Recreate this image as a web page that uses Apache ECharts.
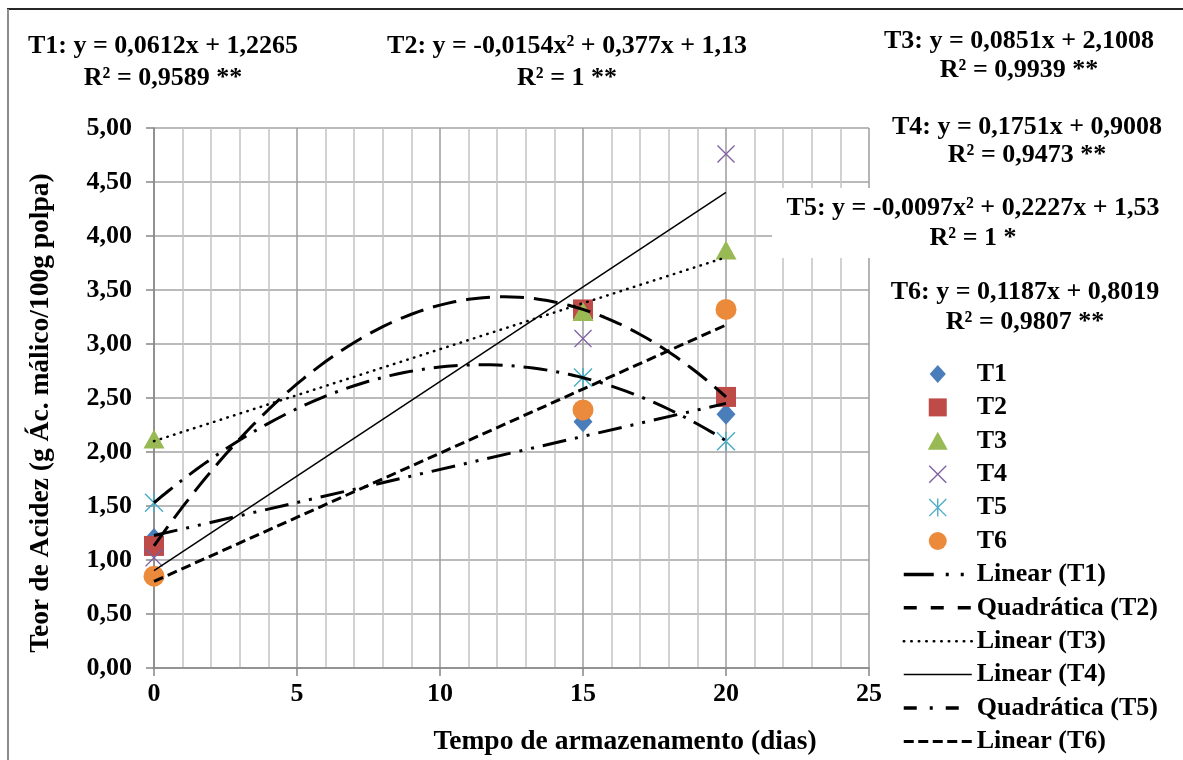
<!DOCTYPE html>
<html><head><meta charset="utf-8">
<script src="https://cdn.jsdelivr.net/npm/echarts@6/dist/echarts.min.js"></script>
<style>html,body{margin:0;padding:0;background:#fff}#c{width:1183px;height:760px}</style>
</head><body><div id="c"></div>
<script>
// ---- data ----
const days = [0, 15, 20];
const scatterNames = ['T1', 'T2', 'T3', 'T4', 'T5', 'T6'];
const T1 = [1.20, 2.28, 2.35];
const T2 = [1.13, 3.32, 2.51];
const T3 = [2.12, 3.30, 3.87];
const T4 = [1.02, 3.05, 4.76];
const T5 = [1.53, 2.69, 2.10];
const T6 = [0.85, 2.39, 3.32];
// trendline coefficients as printed on the chart: [x², x, const]
const fitT1 = [0, 0.0612, 1.2265];
const fitT2 = [-0.0154, 0.377, 1.13];
const fitT3 = [0, 0.0851, 2.1008];
const fitT4 = [0, 0.1751, 0.9008];
const fitT5 = [-0.0097, 0.2227, 1.53];
const fitT6 = [0, 0.1187, 0.8019];
const trendNames = ['Linear (T1)', 'Quadrática (T2)', 'Linear (T3)', 'Linear (T4)', 'Quadrática (T5)', 'Linear (T6)'];
const eqLine1 = ['T1: y = 0,0612x + 1,2265', 'T2: y = -0,0154x² + 0,377x + 1,13', 'T3: y = 0,0851x + 2,1008',
                 'T4: y = 0,1751x + 0,9008', 'T5: y = -0,0097x² + 0,2227x + 1,53', 'T6: y = 0,1187x + 0,8019'];
const eqLine2 = ['R² = 0,9589 **', 'R² = 1 **', 'R² = 0,9939 **', 'R² = 0,9473 **', 'R² = 1 *', 'R² = 0,9807 **'];
const xTicks = [0, 5, 10, 15, 20, 25];
const yTicks = [0, 0.5, 1, 1.5, 2, 2.5, 3, 3.5, 4, 4.5, 5];
const xTitle = 'Tempo de armazenamento (dias)';
const yTitle = 'Teor de Acidez (g Ác. málico/100g polpa)';

// ---- styling ----
const FONT = '"Liberation Serif", "Times New Roman", serif';
const colors = ['#4A7EBB', '#BE4B48', '#98B954', '#7D60A0', '#4BACC6', '#EC8A3C'];
const DIAMOND_PATH = 'path://M45,0L90,50L45,100L0,50Z';
const RECT_PATH = 'path://M0,0L100,0L100,100L0,100Z';
const TRI_PATH = 'path://M50,0L100,90L0,90Z';
const CIRCLE_PATH = 'path://M50,0A50,50,0,1,1,49.99,0Z';
const X_PATH = 'path://M2.83,-2.83L102.83,97.17L97.17,102.83L-2.83,2.83ZM102.83,2.83L2.83,102.83L-2.83,97.17L97.17,-2.83Z';
const STAR_PATH = X_PATH + 'M46,-2.83L54,-2.83L54,102.83L46,102.83Z';
const symbols = ['diamond', 'rect', 'triangle', X_PATH, STAR_PATH, 'circle'];
const legendIcons = [DIAMOND_PATH, RECT_PATH, TRI_PATH, X_PATH, STAR_PATH, CIRCLE_PATH];
const symSizes = [[19, 21], 20, [21, 19], 18, 19, 21];
const trendStyles = [
  { width: 3, type: [24, 9, 3, 9, 3, 9] },
  { width: 3, type: [24, 10] },
  { width: 2.5, type: [0.5, 6.5], cap: 'round' },
  { width: 1.5, type: 'solid' },
  { width: 3, type: [24, 9, 3, 9] },
  { width: 3, type: [10, 5] }
];
const legendLineStyles = [
  { width: 3.5, type: [30, 12, 3, 12, 3, 20] },
  { width: 3.5, type: [13, 14] },
  { width: 2.5, type: [0.5, 7], cap: 'round' },
  { width: 1.5, type: 'solid' },
  { width: 3.5, type: [13, 13, 3, 13] },
  { width: 3, type: [10, 4.5] }
];

const scatterData = [T1, T2, T3, T4, T5, T6];
const fits = [fitT1, fitT2, fitT3, fitT4, fitT5, fitT6];
const xStart = days[0], xEnd = days[days.length - 1];

function trendPoints(c) {
  const pts = [];
  const quad = c[0] !== 0;
  const step = quad ? 0.25 : (xEnd - xStart);
  for (let x = xStart; x <= xEnd + 1e-9; x += step) pts.push([x, c[0] * x * x + c[1] * x + c[2]]);
  return pts;
}

const series = [];
scatterNames.forEach((n, i) => {
  series.push({
    name: n, type: 'scatter', z: 2,
    symbol: symbols[i], symbolSize: symSizes[i],
    itemStyle: { color: colors[i], opacity: 1 },
    data: days.map((d, k) => [d, scatterData[i][k]])
  });
});
trendNames.forEach((n, i) => {
  series.push({
    name: n, type: 'line', z: 3, showSymbol: false, symbol: 'none', smooth: false,
    lineStyle: Object.assign({ color: '#000' }, trendStyles[i]),
    itemStyle: { color: 'rgba(0,0,0,0)', borderWidth: 0 },
    data: trendPoints(fits[i])
  });
});

const fmt = v => v.toFixed(2).replace('.', ',');
const bold = sz => 'bold ' + sz + 'px ' + FONT;

const eqPos = [
  [163, 46, 78], [567, 46, 78], [1019, 41, 70],
  [1027, 127, 155], [973, 208, 238], [1025, 292, 322]
];
const graphics = [
  { type: 'line', z: 50, shape: { x1: 7, y1: 9, x2: 1183, y2: 9 }, style: { stroke: '#262626', lineWidth: 2 } },
  { type: 'line', z: 50, shape: { x1: 8, y1: 9, x2: 8, y2: 760 }, style: { stroke: '#8c8c8c', lineWidth: 2 } },
  { type: 'rect', z: 50, shape: { x: 772, y: 188, width: 400, height: 70 }, style: { fill: '#fff' } },
  { type: 'text', z: 60, x: 41, y: 413, rotation: Math.PI / 2,
    style: { text: yTitle, font: bold(27.5), fill: '#000', align: 'center', verticalAlign: 'middle' } },
  { type: 'text', z: 60, x: 625, y: 742,
    style: { text: xTitle, font: bold(27.5), fill: '#000', align: 'center', verticalAlign: 'middle' } }
];
eqPos.forEach((p, i) => {
  graphics.push({ type: 'text', z: 60, x: p[0], y: p[1],
    style: { text: eqLine1[i], font: bold(26), fill: '#000', align: 'center', verticalAlign: 'middle' } });
  graphics.push({ type: 'text', z: 60, x: p[0], y: p[2],
    style: { text: eqLine2[i], font: bold(26), fill: '#000', align: 'center', verticalAlign: 'middle' } });
});

const legendData = scatterNames.map((n, i) => ({ name: n, icon: legendIcons[i] }))
  .concat(trendNames.map((n, i) => ({ name: n, lineStyle: Object.assign({ color: '#000' }, legendLineStyles[i]) })));

const chart = echarts.init(document.getElementById('c'), null, { renderer: 'canvas' });
chart.setOption({
  animation: false,
  backgroundColor: '#fff',
  grid: { left: 154, top: 128, right: 314, bottom: 92, containLabel: false },
  xAxis: {
    type: 'value', min: xTicks[0], max: xTicks[xTicks.length - 1], interval: xTicks[1] - xTicks[0],
    axisLine: { show: true, lineStyle: { color: '#868686', width: 1.5 } },
    axisTick: { show: true, inside: false, length: 8, lineStyle: { color: '#868686', width: 1.5 } },
    axisLabel: { margin: 13, color: '#000', fontFamily: FONT, fontWeight: 'bold', fontSize: 26 },
    splitLine: { show: true, lineStyle: { color: '#9c9c9c', width: 1.5 } },
    minorTick: { show: false, splitNumber: 5 },
    minorSplitLine: { show: true, lineStyle: { color: '#c4c4c4', width: 1.5 } }
  },
  yAxis: {
    type: 'value', min: yTicks[0], max: yTicks[yTicks.length - 1], interval: yTicks[1] - yTicks[0],
    axisLine: { show: true, lineStyle: { color: '#868686', width: 1.5 } },
    axisTick: { show: true, inside: false, length: 8, lineStyle: { color: '#868686', width: 1.5 } },
    axisLabel: { margin: 22, color: '#000', fontFamily: FONT, fontWeight: 'bold', fontSize: 26, formatter: fmt },
    splitLine: { show: true, lineStyle: { color: '#a3a3a3', width: 1.5 } }
  },
  legend: {
    orient: 'vertical', left: 902, top: 361, padding: 0,
    itemWidth: 68, itemHeight: 18, itemGap: 7.4, symbolKeepAspect: true,
    data: legendData,
    textStyle: { color: '#000', fontFamily: FONT, fontWeight: 'bold', fontSize: 26, lineHeight: 26 }
  },
  graphic: graphics,
  series: series
});
</script>
</body></html>
